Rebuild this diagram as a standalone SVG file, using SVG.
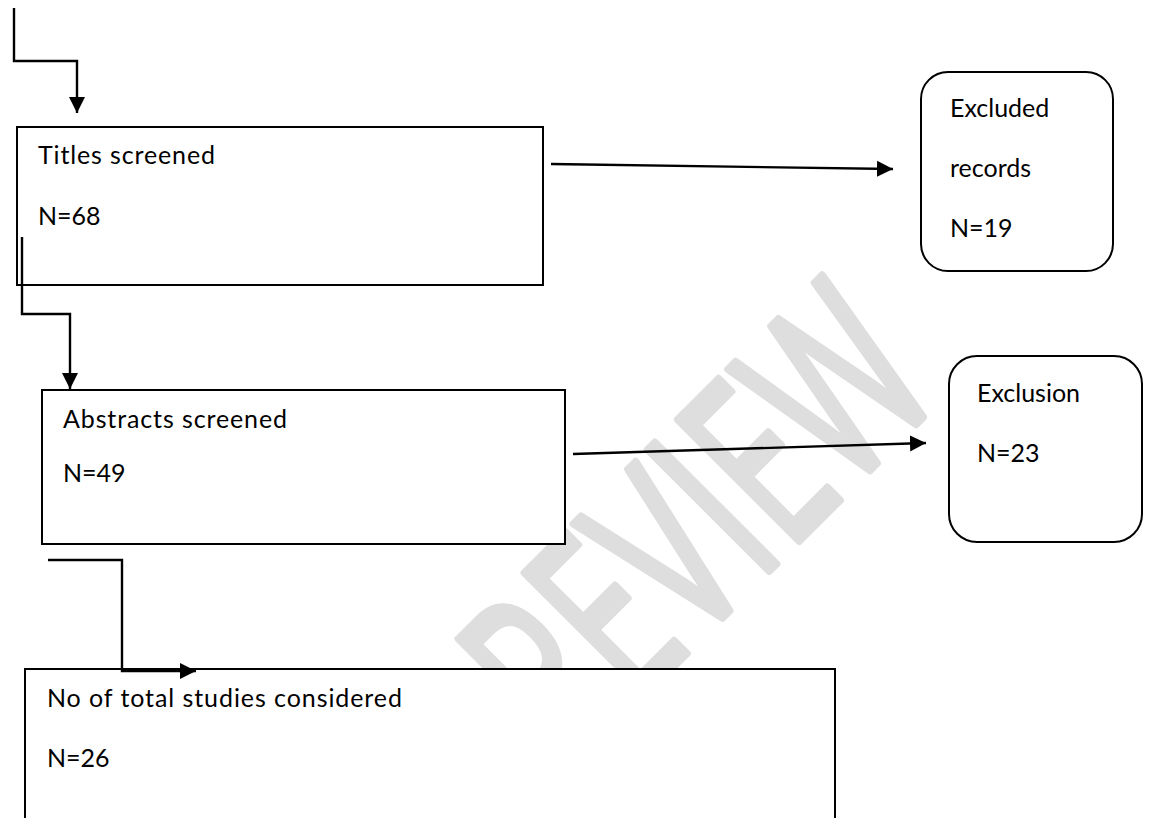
<svg xmlns="http://www.w3.org/2000/svg" width="1152" height="818" viewBox="0 0 1152 818">
<style>
.box{fill:#ffffff;stroke:#000000;stroke-width:2}
.conn{fill:none;stroke:#000000;stroke-width:2.4}
.lbl{font-family:Lato,"Open Sans","Liberation Sans",sans-serif;font-size:25px;fill:#000000}
.wm{font-family:"Open Sans","Noto Sans","Liberation Sans",sans-serif;font-weight:400;font-size:240px;fill:#dedede;stroke:#dedede;stroke-width:8;stroke-linejoin:round;stroke-linecap:round}
</style>
<defs>
<marker id="arr" markerUnits="userSpaceOnUse" markerWidth="18" markerHeight="18" refX="16" refY="8" orient="auto" viewBox="0 0 18 16">
<path d="M0,0 L16,8 L0,16 Z" fill="#000000"/>
</marker>
<clipPath id="page"><rect x="0" y="0" width="1152" height="818"/></clipPath>
</defs>
<rect x="0" y="0" width="1152" height="818" fill="#ffffff"/>
<g id="watermark" clip-path="url(#page)">
<text class="wm" x="0" y="0" transform="translate(504,836) rotate(-45)" textLength="625" lengthAdjust="spacingAndGlyphs">PREVIEW</text>
</g>
<g id="titles">
<rect class="box" x="17" y="127" width="526" height="158"/>
<text class="lbl" x="38" y="164" textLength="177">Titles screened</text>
<text class="lbl" x="38" y="225">N=68</text>
</g>
<g id="excluded">
<rect class="box" x="921" y="72" width="192" height="199" rx="27" ry="27"/>
<text class="lbl" x="950" y="117">Excluded</text>
<text class="lbl" x="950" y="177">records</text>
<text class="lbl" x="950" y="237">N=19</text>
</g>
<g id="abstracts">
<rect class="box" x="42" y="390" width="523" height="154"/>
<text class="lbl" x="63" y="428" textLength="224">Abstracts screened</text>
<text class="lbl" x="63" y="482">N=49</text>
</g>
<g id="exclusion">
<rect class="box" x="949" y="356" width="193" height="186" rx="28" ry="28"/>
<text class="lbl" x="977" y="402">Exclusion</text>
<text class="lbl" x="977" y="462">N=23</text>
</g>
<g id="considered">
<rect class="box" x="25" y="669" width="810" height="170"/>
<text class="lbl" x="47" y="707" textLength="355">No of total studies considered</text>
<text class="lbl" x="47" y="767">N=26</text>
</g>
<g id="connectors">
<polyline class="conn" points="14,8 14,61 77,61 77,113" marker-end="url(#arr)"/>
<polyline class="conn" points="22,237 22,314 70,314 70,389" marker-end="url(#arr)"/>
<polyline class="conn" points="48,560 122,560 122,671 196,671" marker-end="url(#arr)"/>
<line class="conn" x1="551" y1="164" x2="893" y2="169" marker-end="url(#arr)"/>
<line class="conn" x1="573" y1="454" x2="926" y2="443" marker-end="url(#arr)"/>
</g>
</svg>
